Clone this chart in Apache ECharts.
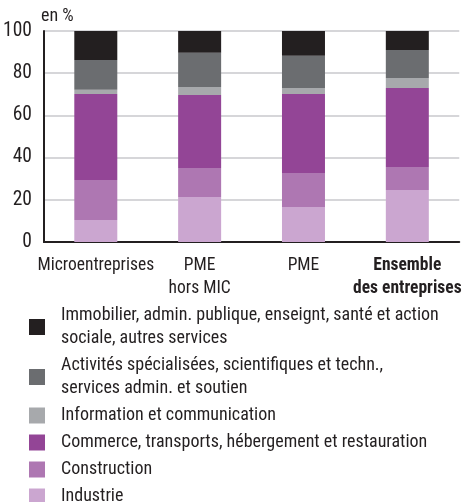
<!DOCTYPE html>
<html>
<head>
<meta charset="utf-8">
<script src="https://cdn.jsdelivr.net/npm/echarts@6/dist/echarts.min.js"></script>
<style>
  html, body { margin: 0; padding: 0; background: #fff; }
  #chart { width: 464px; height: 502px; }
</style>
</head>
<body>
<div id="chart"></div>
<script>
// Catégories (abscisse)
const categories = ['Microentreprises', 'PME\nhors MIC', 'PME', 'Ensemble\ndes entreprises'];

// Séries, du bas de la pile vers le haut (en %)
const seriesNames = [
    'Industrie',
    'Construction',
    'Commerce, transports, hébergement et restauration',
    'Information et communication',
    'Activités spécialisées, scientifiques et techn.,\nservices admin. et soutien',
    'Immobilier, admin. publique, enseignt, santé et action\nsociale, autres services'
];
const industrie = [10.4, 21.3, 16.6, 24.6];
const construction = [19.0, 13.8, 16.1, 10.9];
const commerce = [40.7, 34.6, 37.4, 37.5];
const information = [2.1, 3.8, 2.9, 4.7];
const activites = [14.1, 16.2, 15.3, 13.3];
const immobilier = [13.7, 10.3, 11.7, 9.0];

const seriesValues = [industrie, construction, commerce, information, activites, immobilier];
const colors = ['#cba6d0', '#ae77b2', '#934596', '#a7a9ac', '#6b6d70', '#231f20'];

const yTicks = [0, 20, 40, 60, 80, 100];

const FONT = '"Liberation Sans Narrow", "Arial Narrow", "Roboto Condensed", "Liberation Sans", sans-serif';

const chart = echarts.init(document.getElementById('chart'), null, { renderer: 'canvas' });

const option = {
    animation: false,
    textStyle: { fontFamily: FONT },
    // unité de l'axe
    graphic: [{
        type: 'text',
        left: 41,
        top: 7,
        style: { text: 'en %', fontFamily: FONT, fontSize: 18, fill: '#231f20' }
    }],
    grid: { left: 43, right: 1, top: 31, bottom: 260, containLabel: false },
    xAxis: {
        type: 'category',
        data: categories,
        axisLine: { lineStyle: { color: '#231f20', width: 2 } },
        axisTick: { show: false },
        axisLabel: {
            interval: 0,
            margin: 12,
            fontFamily: FONT,
            fontSize: 17.5,
            lineHeight: 23,
            color: '#231f20',
            formatter: (value, idx) => {
                if (idx === categories.length - 1) {
                    return value.split('\n').map(s => '{b|' + s + '}').join('\n');
                }
                return value;
            },
            rich: {
                b: { fontFamily: FONT, fontSize: 17.5, fontWeight: 'bold', lineHeight: 23, color: '#231f20' }
            }
        }
    },
    yAxis: {
        type: 'value',
        min: yTicks[0],
        max: yTicks[yTicks.length - 1],
        interval: 20,
        axisLine: { show: true, lineStyle: { color: '#231f20', width: 2 } },
        axisTick: { show: false },
        splitLine: { lineStyle: { color: '#c8c8cc', width: 1.5 } },
        axisLabel: { margin: 12, fontFamily: FONT, fontSize: 19.5, color: '#231f20' }
    },
    legend: {
        orient: 'vertical',
        left: 29,
        top: 304,
        height: 200,
        padding: 0,
        itemWidth: 16,
        itemHeight: 16,
        itemGap: 4,
        icon: 'rect',
        selectedMode: false,
        data: seriesNames.slice().reverse(),
        textStyle: {
            fontFamily: FONT,
            fontSize: 18,
            lineHeight: 23,
            color: '#231f20',
            padding: [0, 0, 0, 11]
        }
    },
    series: seriesNames.map((name, i) => ({
        name: name,
        type: 'bar',
        stack: 'total',
        barWidth: 43,
        data: seriesValues[i],
        itemStyle: { color: colors[i] }
    }))
};

chart.setOption(option);
</script>
</body>
</html>
